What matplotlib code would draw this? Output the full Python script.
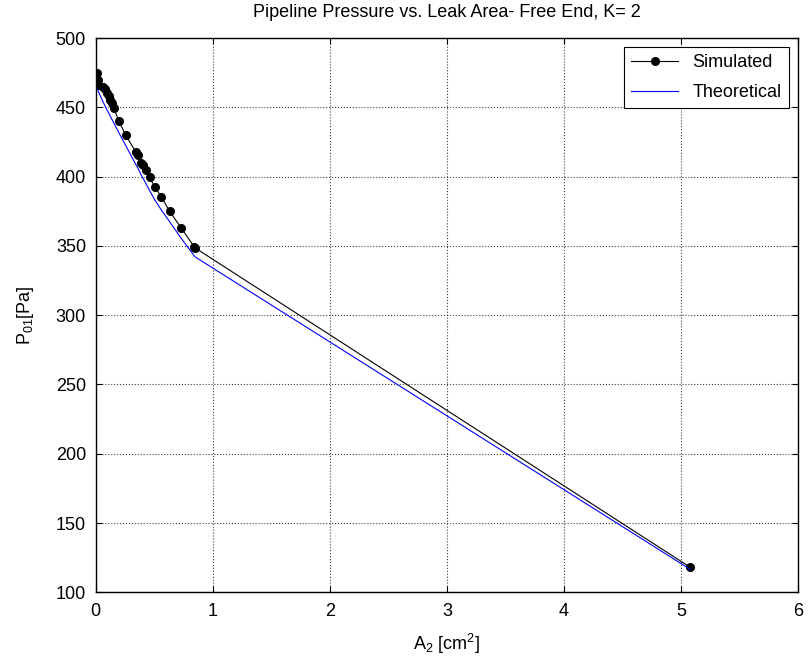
import matplotlib
matplotlib.use('Agg')
from matplotlib import pyplot as plt

plt.rcParams['font.family'] = ['Liberation Sans', 'DejaVu Sans']
plt.rcParams['mathtext.default'] = 'regular'

# leak area [cm^2] and pressures [Pa]
area = [0.015, 0.018, 0.02, 0.062, 0.077, 0.097, 0.114, 0.125, 0.137, 0.153,
        0.199, 0.256, 0.341, 0.361, 0.39, 0.403, 0.426, 0.46, 0.506, 0.56,
        0.631, 0.73, 0.84, 0.85, 5.08]
p_sim = [475, 470, 466, 465, 463, 460, 458, 455.5, 453, 449.5,
         440, 430, 418, 415.5, 409.5, 408.5, 405, 399.5, 392.5, 385.5,
         375, 363, 349.5, 348.5, 118]
p_theo = [463, 462.5, 462, 454, 451.5, 448, 445.5, 443.5, 441.5, 439,
          431.5, 422.5, 409, 406, 401, 399, 395.5, 390, 383, 376,
          367.5, 355.5, 343, 342, 116.5]

fs = 13

fig = plt.figure(figsize=(8.11, 6.67), dpi=100)
ax = fig.add_axes([0.118, 0.112, 0.866, 0.831])

ax.plot(area, p_sim, color='black', linewidth=0.8, marker='o', markersize=5.5,
        label='Simulated')
ax.plot(area, p_theo, color='blue', linewidth=0.8, label='Theoretical')

ax.set_xlim(0, 6)
ax.set_ylim(100, 500)
ax.set_xticks(range(0, 7))
ax.set_yticks(range(100, 501, 50))
ax.grid(True, linestyle=':', color='#404040', linewidth=0.8)
ax.tick_params(direction='in', top=True, right=True, labelsize=fs, length=4)
ax.tick_params(axis='x', pad=8)
ax.tick_params(axis='y', pad=7)
for s in ax.spines.values():
    s.set_linewidth(1.0)

ax.set_title('Pipeline Pressure vs. Leak Area- Free End, K= 2', fontsize=fs, pad=15)
ax.set_xlabel('A$_2$ [cm$^2$]', fontsize=fs, labelpad=8)
ax.set_ylabel('P$_{01}$[Pa]', fontsize=fs, labelpad=14)

L = ax.legend(loc='upper right', fontsize=fs, fancybox=False, framealpha=1,
              edgecolor='black', handlelength=2.6, borderaxespad=0.5,
              labelspacing=0.7)
L.get_frame().set_linewidth(0.8)

plt.savefig('out.png', dpi=100)
